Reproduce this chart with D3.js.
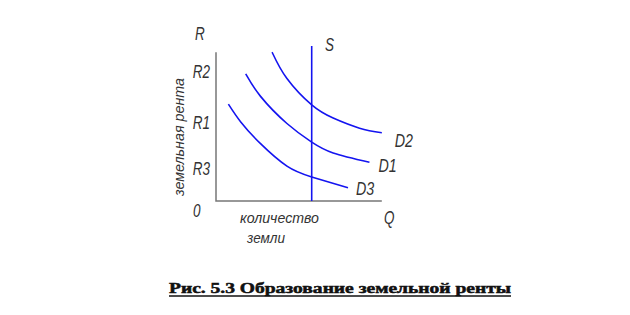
<!DOCTYPE html>
<html>
<head>
<meta charset="utf-8">
<script src="https://cdn.jsdelivr.net/npm/d3@7"></script>
<style>
  body { margin: 0; background: #fff; }
  .lbl { font-family: 'Liberation Sans', 'DejaVu Sans', sans-serif; font-style: italic; fill: #333; }
  .caption { font-family: 'Liberation Serif', serif; font-weight: bold; fill: #111; stroke: #111; stroke-width: 0.5; }
</style>
</head>
<body>
<svg id="chart"></svg>
<script>
const width = 630;
const height = 315;

// curves in abstract units (quantity of land, rent)
const d2 = [[3.4, 9.6], [4.3, 7.9], [5.8, 6.2], [7.1, 5.35], [8.7, 4.7], [10.05, 4.4]];
const d1 = [[1.8, 8.2], [2.7, 6.75], [4.3, 5.0], [5.8, 3.8], [7.1, 3.1], [9.3, 2.5]];
const d3c = [[0.75, 6.25], [1.5, 5.1], [2.7, 3.7], [4.3, 2.25], [5.8, 1.55], [8.0, 0.85]];
const curveNames = ['D2', 'D1', 'D3'];
const supplyX = 5.8;
const rentTicks = ['R2', 'R1', 'R3'];
const rentValues = [8.4, 5.1, 2.1];

const scaleX = d3.scaleLinear().domain([0, 10]).range([216, 381]);
const scaleY = d3.scaleLinear().domain([0, 10]).range([201, 46]);

const svg = d3.select('#chart')
  .attr('width', width)
  .attr('height', height);

// narrow italic label, squeezed like a drafting font
const label = (x, y, text, size = 18, anchor = 'start') =>
  svg.append('text')
    .attr('class', 'lbl')
    .attr('transform', `translate(${x},${y}) scale(0.75,1)`)
    .attr('text-anchor', anchor)
    .attr('font-size', size)
    .text(text);

// axes
svg.append('path')
  .attr('d', `M${scaleX(0)},${scaleY(9.6)}V${scaleY(0)}H${scaleX(10.05)}`)
  .attr('fill', 'none')
  .attr('stroke', '#777')
  .attr('stroke-width', 1.5);

// supply line
svg.append('line')
  .attr('x1', scaleX(supplyX)).attr('x2', scaleX(supplyX))
  .attr('y1', scaleY(10)).attr('y2', scaleY(0))
  .attr('stroke', '#1414f0')
  .attr('stroke-width', 1.6);

const line = d3.line()
  .x(d => scaleX(d[0]))
  .y(d => scaleY(d[1]))
  .curve(d3.curveNatural);

const labelOffsets = [[13, 14], [9, 10], [8, 7]];

[d2, d1, d3c].forEach((c, i) => {
  svg.append('path')
    .attr('d', line(c))
    .attr('fill', 'none')
    .attr('stroke', '#1414f0')
    .attr('stroke-width', 1.6);

  const last = c[c.length - 1];
  label(scaleX(last[0]) + labelOffsets[i][0], scaleY(last[1]) + labelOffsets[i][1], curveNames[i], 19);
});

// rent tick labels
rentTicks.forEach((t, i) => {
  label(210, scaleY(rentValues[i]) + 7, t, 18, 'end');
});

label(195, 40, 'R');
label(193, 217, '0');
label(384, 224, 'Q');
label(325, 51, 'S');

svg.append('text').attr('class', 'lbl').attr('x', 240).attr('y', 223)
  .attr('font-size', 15).attr('textLength', 79).attr('lengthAdjust', 'spacingAndGlyphs')
  .text('количество');
svg.append('text').attr('class', 'lbl').attr('x', 247).attr('y', 243)
  .attr('font-size', 15).attr('textLength', 38).attr('lengthAdjust', 'spacingAndGlyphs')
  .text('земли');

svg.append('text').attr('class', 'lbl')
  .attr('transform', 'translate(184,137) rotate(-90)')
  .attr('text-anchor', 'middle')
  .attr('font-size', 15)
  .attr('textLength', 118)
  .attr('lengthAdjust', 'spacingAndGlyphs')
  .text('земельная рента');

svg.append('text').attr('class', 'caption')
  .attr('x', 169).attr('y', 293)
  .attr('font-size', 14)
  .attr('textLength', 342)
  .attr('lengthAdjust', 'spacingAndGlyphs')
  .text('Рис. 5.3 Образование земельной ренты');

// underline of the caption
svg.append('line')
  .attr('x1', 169).attr('x2', 511)
  .attr('y1', 296).attr('y2', 296)
  .attr('stroke', '#111')
  .attr('stroke-width', 1.5);
</script>
</body>
</html>
